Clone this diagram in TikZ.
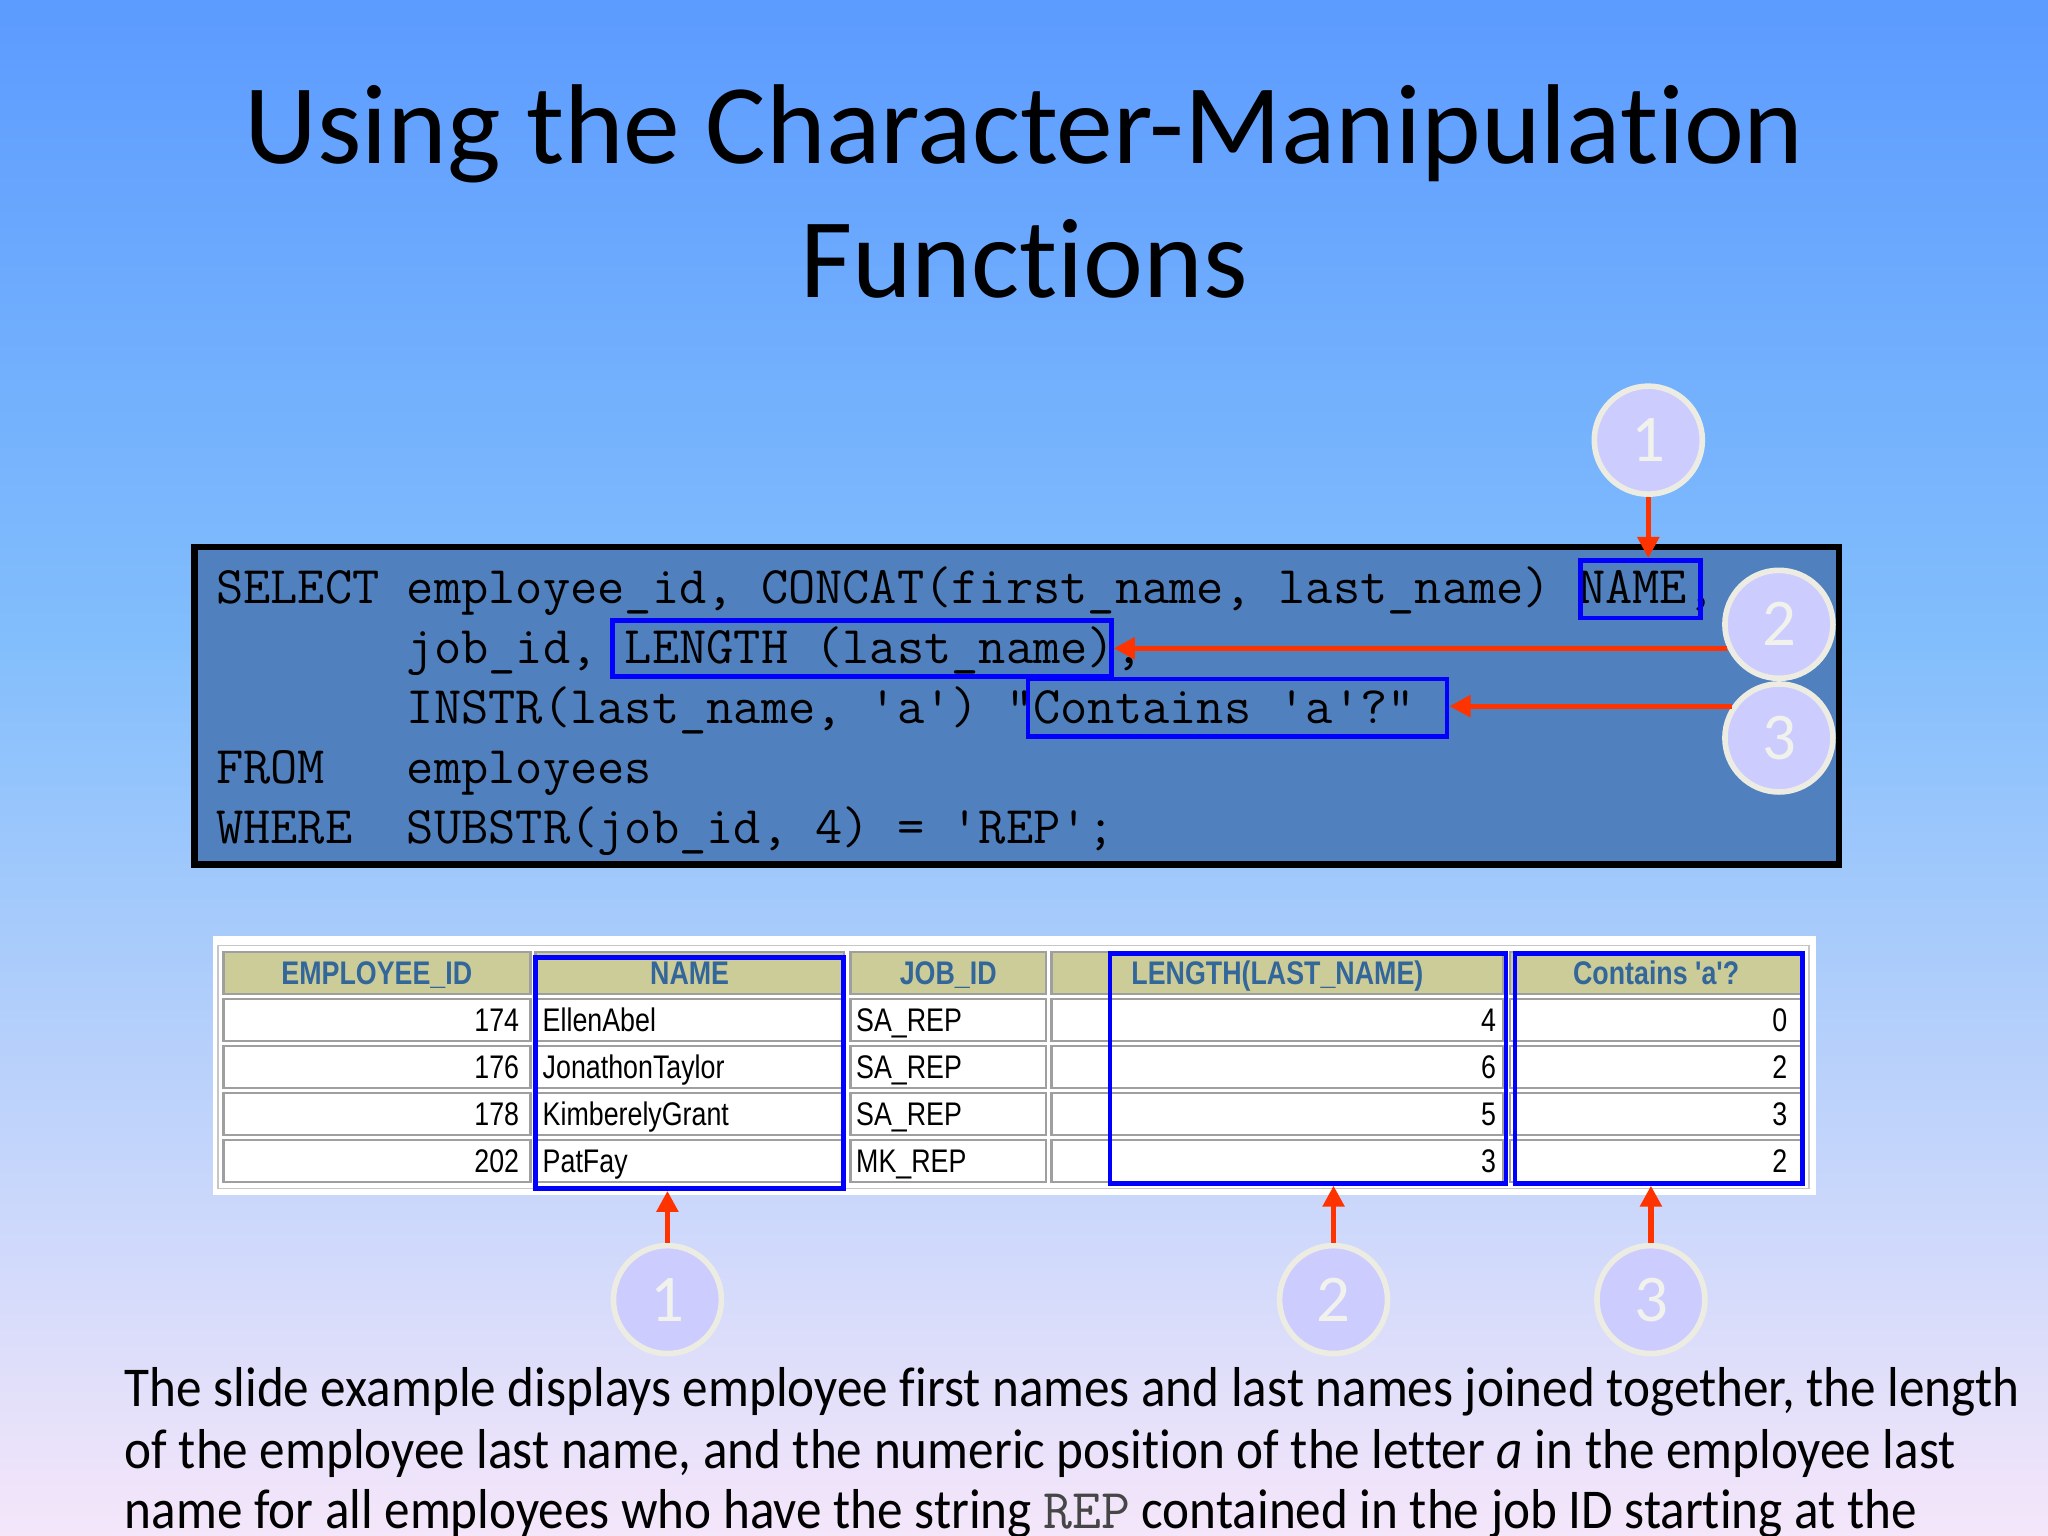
\documentclass[tikz,border=0pt]{standalone}
\usepackage{fontspec}
\setmainfont[Ligatures=NoCommon]{Carlito}
\newfontfamily\notefont[Ligatures=NoCommon,FakeStretch=0.91]{Carlito}
\newfontfamily\gridfont[Ligatures=TeXOff,FakeStretch=0.82]{Liberation Sans}
\usetikzlibrary{arrows.meta,fit}

\definecolor{slidetop}{RGB}{92,155,255}
\definecolor{slidemid}{RGB}{130,190,252}
\definecolor{slidebot}{RGB}{245,230,250}
\definecolor{codefill}{RGB}{80,128,190}
\definecolor{hlblue}{RGB}{0,0,255}
\definecolor{ptrred}{RGB}{255,51,0}
\definecolor{badgefill}{RGB}{204,204,255}
\definecolor{badgeline}{RGB}{236,236,226}
\definecolor{badgetext}{RGB}{242,242,236}
\definecolor{headfill}{RGB}{204,204,153}
\definecolor{headtext}{RGB}{51,102,153}
\definecolor{codegrey}{RGB}{70,70,70}

\begin{document}
\begin{tikzpicture}[x=0.013061cm,y=-0.013061cm,
    title/.style={anchor=base,inner sep=0,font=\fontsize{32.3}{38}\selectfont},
    code/.style={anchor=base west,inner sep=0,font=\ttfamily\fontsize{15.05}{16}\selectfont},
    hlbox/.style={draw=hlblue,line width=1.3pt,inner sep=0},
    badge/.style={circle,fill=badgefill,draw=badgeline,line width=1.6pt,minimum size=1.08cm,
      inner sep=0,text=badgetext,font=\fontsize{19}{19}\selectfont},
    pointer/.style={draw=ptrred,line width=1.5pt,-{Triangle[length=6pt,width=6pt]}},
    cell/.style={draw=gray!75,line width=0.7pt},
    head/.style={anchor=base,inner sep=0,text=headtext,font=\gridfont\bfseries\fontsize{9.3}{11}\selectfont},
    datum/.style={inner sep=0,font=\gridfont\fontsize{9.3}{11}\selectfont},
    note/.style={anchor=base west,inner sep=0,font=\notefont\fontsize{16}{19}\selectfont}]
  \useasboundingbox (0,0) rectangle (1568,1176);
  \fill[top color=slidetop,bottom color=slidemid] (0,0) rectangle (1568,491);
  \fill[top color=slidemid,bottom color=slidebot] (0,490) rectangle (1568,1176);

  \node[title] (title1) at (784,125) {Using the Character-Manipulation};
  \node[title] (title2) at (784,228) {Functions};

  % SQL statement
  \node[draw=black,line width=1.8pt,fill=codefill,inner sep=0,fit={(149,419) (1408,662)}] (sqlbox) {};
  \foreach \kw/\yb in {SELECT/462,FROM/600,WHERE/646}
    \node[code] (kw\kw) at (165,\yb) {\kw};
  \node[code] (ln1) at (311,462) {employee\_id, CONCAT(first\_name, last\_name) NAME,};
  \node[code] (ln2) at (311,508) {job\_id, LENGTH (last\_name),};
  \node[code] (ln3) at (311,554) {INSTR(last\_name, 'a') "Contains 'a'?"};
  \node[code] (ln4) at (311,600) {employees};
  \node[code] (ln5) at (311,646) {SUBSTR(job\_id, 4) = 'REP';};

  \node[hlbox,fit={(1210,429) (1302,473)}] (namebox) {};
  \node[hlbox,fit={(469,475) (851,518)}] (lenbox) {};
  \node[hlbox,fit={(787,520) (1108,564)}] (insbox) {};

  \node[badge] (t1) at (1262,337) {1};
  \node[badge] (t2) at (1362,478) {2};
  \node[badge] (t3) at (1362,565) {3};
  \draw[pointer] (t1.south) -- (t1.south |- namebox.north);
  \draw[pointer] (t2.205) -- (t2.205 -| lenbox.east);
  \draw[pointer] (t3.146) -- (t3.146 -| insbox.east);

  % result grid
  \fill[white] (163,717) rectangle (1390,915);
  \draw[gray!45] (167,724) rectangle (1385,910);
  \foreach \l/\r/\h [count=\c] in {171/406/EMPLOYEE\_ID,410/646/NAME,651/801/JOB\_ID,
      805/1151/LENGTH(LAST\_NAME),1156/1380/Contains 'a'?} {
    \draw[cell,fill=headfill] (\l,729) rectangle (\r,761);
    \node[head] (h\c) at ({(\l+\r)/2},754) {\h};
  }
  \foreach \ry/\id/\nm/\job/\len/\pos [count=\i] in {765/174/EllenAbel/SA\_REP/4/0,
      801/176/JonathonTaylor/SA\_REP/6/2,837/178/KimberelyGrant/SA\_REP/5/3,
      873/202/PatFay/MK\_REP/3/2} {
    \foreach \l/\r in {171/406,410/646,651/801,805/1151,1156/1380}
      \draw[cell] (\l,\ry) rectangle (\r,\ry+32);
    \node[datum,anchor=base east] (id\i) at (398,\ry+25) {\id};
    \node[datum,anchor=base west] (nm\i) at (415,\ry+25) {\nm};
    \node[datum,anchor=base west] (job\i) at (655,\ry+25) {\job};
    \node[datum,anchor=base east] (len\i) at (1146,\ry+25) {\len};
    \node[datum,anchor=base east] (pos\i) at (1369,\ry+25) {\pos};
  }
  \node[hlbox,fit={(410,733) (646,910)}] (namecol) {};
  \node[hlbox,fit={(850,730) (1153,906)}] (lencol) {};
  \node[hlbox,fit={(1160,730) (1380,906)}] (inscol) {};

  \node[badge] (b1) at (511,995) {1};
  \node[badge] (b2) at (1021,995) {2};
  \node[badge] (b3) at (1264,995) {3};
  \draw[pointer] (b1.north) -- (b1.north |- namecol.south);
  \draw[pointer] (b2.north) -- (b2.north |- lencol.south);
  \draw[pointer] (b3.north) -- (b3.north |- inscol.south);

  \node[note] (note1) at (95,1077) {The slide example displays employee first names and last names joined together, the length};
  \node[note] (note2) at (95,1124) {of the employee last name, and the numeric position of the letter \textit{a} in the employee last};
  \node[note] (note3) at (95,1170) {name for all employees who have the string {\ttfamily\fontsize{16}{16}\selectfont\color{codegrey}REP} contained in the job ID starting at the};
\end{tikzpicture}
\end{document}
